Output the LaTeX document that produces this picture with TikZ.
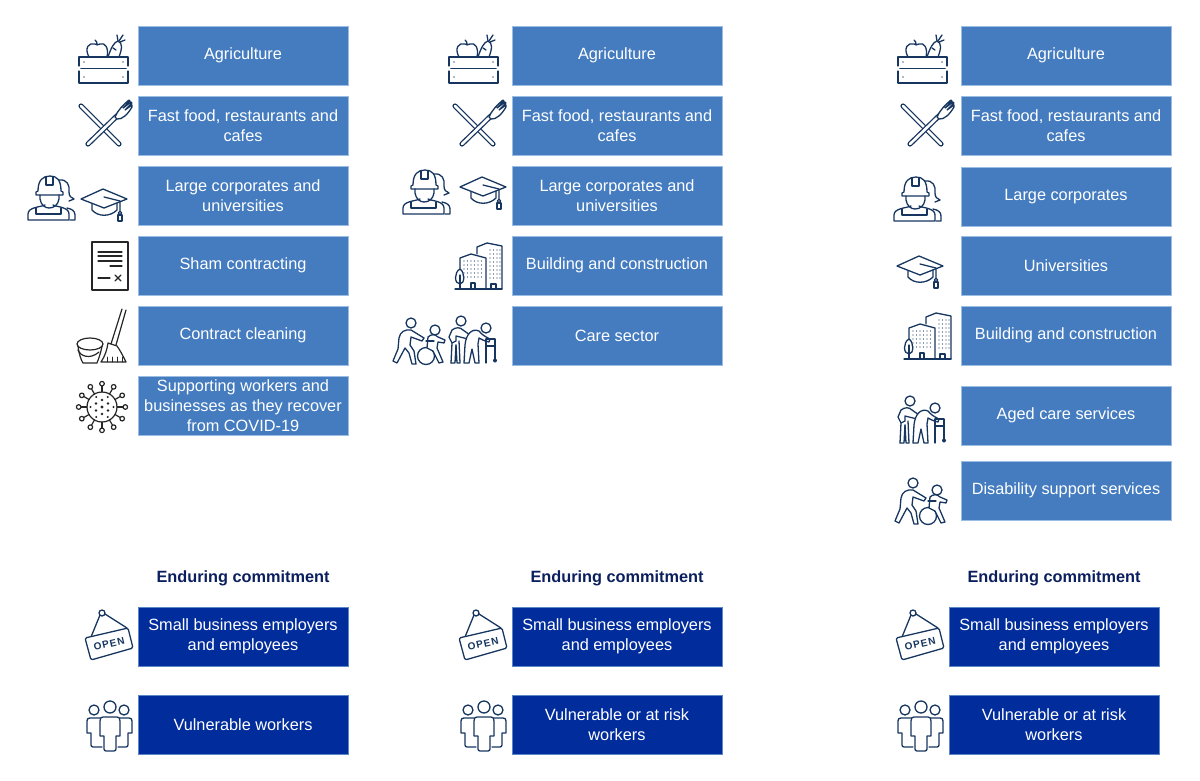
\documentclass[tikz,border=0pt]{standalone}
\usepackage{fontspec}
\setmainfont{Liberation Sans}
\usepackage{tikz}
\definecolor{boxblue}{HTML}{447CBF}
\definecolor{boxedge}{HTML}{9CBDE3}
\definecolor{navybox}{HTML}{002C9C}
\definecolor{navyedge}{HTML}{5B86C8}
\definecolor{headblue}{HTML}{0B1F5E}
\definecolor{iconblue}{HTML}{17365F}
\definecolor{inkgrey}{HTML}{262626}
\tikzset{
	iconline/.style={draw=iconblue, line width=1.3pt, line cap=round, line join=round},
	inkline/.style={draw=inkgrey, line width=1.2pt, line cap=round, line join=round},
	crate/.pic={
		\draw[iconline] (-25,6) -- (-25,-3) -- (24,-3) -- (24,6);
		\draw[iconline] (-25,11) -- (-25,23) -- (24,23) -- (24,11);
		\draw[iconline, line width=1.8pt] (-23,8.5) -- (22,8.5);
		\foreach \px/\py in {-20/2,-20/17,19/2,19/17}
			\fill[iconblue!70] (\px,\py) circle (0.9);
		\draw[iconline] (-15,-3) .. controls (-20,-12) and (-15,-18) .. (-9,-16) .. controls (-7,-15) and (-6,-15) .. (-4,-16) .. controls (1,-18) and (5,-12) .. (3,-3);
		\draw[iconline] (-7,-15) .. controls (-7,-18) .. (-9,-20);
		\draw[iconline] (4,-3) .. controls (7,-12) and (10,-18) .. (14,-19) .. controls (19,-17) and (18,-11) .. (15,-3);
		\draw[iconline] (14,-19) -- (13,-25);
		\draw[iconline] (15,-19) -- (19,-25);
		\draw[iconline] (16,-18) -- (21,-20);
		\draw[iconline] (9,-12) -- (12,-10);
	},
	cutlery/.pic={
		\draw[iconblue, line width=1.3pt, double=white, double distance=2.6pt, line cap=round] (-23,-18) -- (15,20);
		\draw[iconblue, line width=1.3pt, double=white, double distance=2.6pt, line cap=round] (-16,20) -- (15,-10);
		\draw[iconline, fill=white] (11,-7) .. controls (14,-14) and (19,-19) .. (25,-24) -- (26,-23) -- (19,-16) -- (27,-22) -- (28,-21) -- (21,-14) -- (28,-19) -- (28,-17) .. controls (24,-10) and (18,-4) .. (13,-5) -- cycle;
	},
	worker/.pic={
		%Woman behind
		\draw[iconline] (8,-19) .. controls (16,-20) and (19,-14) .. (18,-7) .. controls (18,-3) and (20,-1) .. (23,0) -- (18,2);
		\draw[iconline] (16,9) .. controls (21,10) and (24,12) .. (24,16) -- (24,21) -- (19,21);
		%Man in front
		\draw[iconline, fill=white] (-15,-7) -- (-13,-8) .. controls (-13,-19) and (-8,-23) .. (-1,-23) .. controls (6,-23) and (10,-19) .. (10,-8) -- (12,-7) -- (12,-4) -- (-15,-4) -- cycle;
		\draw[iconline] (-5,-22) -- (-5,-14) -- (2,-14) -- (2,-22);
		\draw[iconline] (-11,-4) -- (-11,0) .. controls (-10,6) and (-6,9) .. (-2,9) .. controls (3,9) and (7,6) .. (8,0) -- (8,-4);
		\draw[iconline] (-6,6) .. controls (-10,8) and (-23,8) .. (-23,15) -- (-23,21) -- (18,21) -- (18,15) .. controls (18,8) and (6,8) .. (2,6);
		\draw[iconline] (-15,9) -- (-15,15) -- (10,15) -- (10,9);
	},
	gradcap/.pic={
		\draw[iconline] (-23,-5) -- (-1,-15) -- (23,-5) -- (0,4) -- cycle;
		\draw[iconline] (-12,0) -- (-12,6) .. controls (-6,13) and (6,13) .. (13,6) -- (13,-1);
		\draw[iconline] (0,-7) -- (16,-3) -- (16,7);
		\draw[iconline] (16,9) circle (1.7);
		\draw[iconline] (14,11) -- (18,11) -- (18,17) -- (14,17) -- cycle;
	},
	contract/.pic={
		\draw[inkline] (-18,-24) rectangle (18,24);
		\foreach \py in {-14,-10,-5}
			\draw[inkline] (-12,\py) -- (12,\py);
		\draw[inkline] (0,0) -- (12,0);
		\draw[inkline] (-12,12) -- (0,12);
		\draw[inkline] (5,9) -- (11,15);
		\draw[inkline] (11,9) -- (5,15);
	},
	cleaning/.pic={
		\draw[inkline] (-12,8) ellipse [x radius=13, y radius=6];
		\draw[inkline] (-24,10) .. controls (-23,18) and (-21,24) .. (-19,27) -- (-5,27) .. controls (-3,22) and (-1,16) .. (0,10);
		\draw[inkline] (-24,14) .. controls (-22,20) and (-12,24) .. (-3,16);
		\draw[inkline] (20,-27) -- (9,8);
		\draw[inkline] (24,-26) -- (14,9);
		\draw[inkline] (6,7) -- (15,10) .. controls (18,14) and (21,20) .. (24,26) -- (-1,26) .. controls (3,20) and (5,14) .. (6,7) -- cycle;
		\foreach \px in {5,10,15,20}
			\draw[inkline, line width=0.9pt] (\px,26) -- (\px,21);
	},
	virus/.pic={
		\draw[inkline] (0,0) circle (15);
		\foreach \pa in {0,30,...,330} {
			\draw[inkline] (\pa:15) -- (\pa:21);
			\draw[inkline] (\pa:23.3) circle (2.3);
		}
		\fill[inkgrey] (0,0) circle (1.6);
		\foreach \pa in {30,90,...,330}
			\fill[inkgrey] (\pa:7) circle (1.4);
		\foreach \pa in {0,60,...,300}
			\fill[inkgrey] (\pa:11.5) circle (1.1);
	},
	towers/.pic={
		\draw[iconline] (-2,-12) -- (-2,-19) -- (8,-23) -- (23,-20) -- (23,23);
		\draw[iconline] (-19,12) -- (-19,-8) -- (-8,-12) -- (7,-8) -- (7,23);
		\draw[iconline] (-24,23) -- (23,23);
		\foreach \px in {-15,-11.5,...,3}
			\foreach \py in {-5,-1,...,11}
				\fill[iconblue] (\px,\py) circle (0.7);
		\foreach \px in {11,14.5,18,21}
			\foreach \py in {-16,-12,...,14}
				\fill[iconblue] (\px,\py) circle (0.7);
		\draw[iconline] (-8,23) -- (-8,17) -- (-4,17) -- (-4,23);
		\draw[iconline] (12,23) -- (12,18) -- (17,18) -- (17,23);
		\draw[iconline, fill=white] (-19,3) .. controls (-25,6) and (-25,18) .. (-19,18) .. controls (-14,18) and (-14,6) .. (-19,3) -- cycle;
		\draw[iconline] (-19,9) -- (-19,23);
	},
	agedcare/.pic={
		\draw[iconline] (-11,-19) circle (5);
		\draw[iconline] (-21,23) -- (-20,3) -- (-23,-3) -- (-20,-10) .. controls (-16,-13) and (-12,-13) .. (-9,-10) -- (-2,-5);
		\draw[iconline] (-20,3) -- (-16,1) -- (-16,-4) -- (-4,-1);
		\draw[iconline] (-21,23) -- (-17,23) -- (-16,5);
		\draw[iconline] (-13,1) -- (-12,23) -- (-15,23) -- (-16,5);
		\draw[iconline] (14,-12) circle (5);
		\draw[iconline, fill=white] (-8,23) -- (-7,5) .. controls (-6,-6) and (0,-12) .. (7,-9) .. controls (10,-5) and (14,-3) .. (18,-1) -- (17,2) .. controls (12,1) and (9,-1) .. (7,-2) -- (6,4) -- (7,23) -- (3,23) -- (0,9) -- (-3,23) -- cycle;
		\draw[iconline] (14,-1) -- (23,-1) -- (23,19);
		\draw[iconline] (14,6) -- (23,6);
		\draw[iconline] (14,-1) -- (14,23);
		\fill[iconblue] (23,20.5) circle (2);
	},
	disability/.pic={
		\draw[iconline] (-8,-17) circle (5);
		\draw[iconline] (-26,21) -- (-21,9) -- (-20,-2) .. controls (-19,-8) and (-14,-11) .. (-8,-10) -- (5,-2) -- (3,1) -- (-8,-3) -- (-9,5) -- (-5,11) -- (-3,24) -- (-7,24) -- (-10,13) -- (-14,8) -- (-22,23) -- cycle;
		\draw[iconline] (16,-10) circle (5);
		\draw[iconline] (7,16) circle (8.5);
		\draw[iconline, fill=white] (8,8) -- (9,-3) .. controls (12,-6) and (16,-6) .. (19,-3) -- (26,0) -- (25,3) -- (19,2) -- (18,8) -- (24,22) -- (20,23) -- (14,11) -- cycle;
		\draw[iconline] (7,1) -- (15,1);
	},
	opensign/.pic={
		\draw[iconline] (-7,-22) circle (3);
		\draw[iconline] (-9,-20) -- (-18,2);
		\draw[iconline] (-4,-21) -- (18,-7);
		\draw[iconline, rounded corners=1.5pt, fill=white] (-24,3) -- (19,-7) -- (24,13) -- (-18,25) -- cycle;
		\node[rotate=13, text=iconblue, font=\fontsize{10}{12}\selectfont\bfseries\addfontfeature{LetterSpace=10}, inner sep=0pt] (-word) at (0,9) {OPEN};
	},
	people/.pic={
		\draw[iconline] (0,-20) circle (6);
		\draw[iconline] (-16,-17) circle (5);
		\draw[iconline] (14,-17) circle (5);
		\draw[iconline] (-10,-6) .. controls (-10,-9) and (-9,-10) .. (-7,-10) -- (7,-10) .. controls (9,-10) and (10,-9) .. (10,-6) -- (10,9) -- (6,9) -- (6,22) .. controls (6,23) and (5,24) .. (4,24) -- (-4,24) .. controls (-5,24) and (-6,23) .. (-6,22) -- (-6,9) -- (-10,9) -- cycle;
		\draw[iconline] (-10,-9) -- (-20,-9) .. controls (-22,-9) and (-23,-8) .. (-23,-6) -- (-23,6) -- (-19,6) -- (-19,18) .. controls (-19,19) and (-18,20) .. (-17,20) -- (-8,20);
		\draw[iconline] (10,-9) -- (19,-9) .. controls (21,-9) and (22,-8) .. (22,-6) -- (22,6) -- (18,6) -- (18,18) .. controls (18,19) and (17,20) .. (16,20) -- (8,20);
	},
}
\begin{document}
\begin{tikzpicture}[
						x=1pt, y=-1pt,
						sectorbox/.style={rectangle, draw=boxedge, fill=boxblue, text=white, inner sep=0pt, minimum width=210pt, minimum height=59pt, align=center, font=\fontsize{16.3}{20}\selectfont},
						commitbox/.style={sectorbox, draw=navyedge, fill=navybox},
						headnode/.style={text=headblue, inner sep=0pt, font=\fontsize{16.3}{20}\selectfont\bfseries},
						]
						\useasboundingbox (0,0) rectangle (1200,780);
						%Nodes, left column
						\node[sectorbox]      (a1) 	at 	(243,55.5)      {Agriculture};
						\node[sectorbox]      (a2) 	at 	(243,125.5)     {Fast food, restaurants and\\cafes};
						\node[sectorbox]      (a3) 	at 	(243,195.5)     {Large corporates and\\universities};
						\node[sectorbox]      (a4) 	at 	(243,265.5)     {Sham contracting};
						\node[sectorbox]      (a5) 	at 	(243,335.5)     {Contract cleaning};
						\node[sectorbox]      (a6) 	at 	(243,405.5)     {Supporting workers and\\businesses as they recover\\from COVID-19};
						\node[headnode]       (ah) 	at 	(243,578)       {Enduring commitment};
						\node[commitbox]      (a7) 	at 	(243,636.5)     {Small business employers\\and employees};
						\node[commitbox]      (a8) 	at 	(243,724.5)     {Vulnerable workers};
						%Nodes, middle column
						\node[sectorbox]      (b1) 	at 	(617,55.5)      {Agriculture};
						\node[sectorbox]      (b2) 	at 	(617,125.5)     {Fast food, restaurants and\\cafes};
						\node[sectorbox]      (b3) 	at 	(617,195.5)     {Large corporates and\\universities};
						\node[sectorbox]      (b4) 	at 	(617,265.5)     {Building and construction};
						\node[sectorbox]      (b5) 	at 	(617,335.5)     {Care sector};
						\node[headnode]       (bh) 	at 	(617,578)       {Enduring commitment};
						\node[commitbox]      (b6) 	at 	(617,636.5)     {Small business employers\\and employees};
						\node[commitbox]      (b7) 	at 	(617,724.5)     {Vulnerable or at risk\\workers};
						%Nodes, right column
						\node[sectorbox]      (c1) 	at 	(1066,55.5)     {Agriculture};
						\node[sectorbox]      (c2) 	at 	(1066,125.5)    {Fast food, restaurants and\\cafes};
						\node[sectorbox]      (c3) 	at 	(1066,196.5)    {Large corporates};
						\node[sectorbox]      (c4) 	at 	(1066,265.5)    {Universities};
						\node[sectorbox]      (c5) 	at 	(1066,335.5)    {Building and construction};
						\node[sectorbox]      (c6) 	at 	(1066,415.5)    {Aged care services};
						\node[sectorbox]      (c7) 	at 	(1066,490.5)    {Disability support services};
						\node[headnode]       (ch) 	at 	(1054,578)      {Enduring commitment};
						\node[commitbox]      (c8) 	at 	(1054,636.5)    {Small business employers\\and employees};
						\node[commitbox]      (c9) 	at 	(1054,724.5)    {Vulnerable or at risk\\workers};
						%Icons, left column
						\pic (ia1) at (104,60)  {crate};
						\pic (ia2) at (104,124) {cutlery};
						\pic (ia3) at (51,199)  {worker};
						\pic (ia4) at (104,204) {gradcap};
						\pic (ia5) at (110,266) {contract};
						\pic (ia6) at (102,336) {cleaning};
						\pic (ia7) at (102,407) {virus};
						\pic (ia8) at (109,635) {opensign};
						\pic (ia9) at (110,727) {people};
						%Icons, middle column
						\pic (ib1) at (474,60)  {crate};
						\pic (ib2) at (478,124) {cutlery};
						\pic (ib3) at (426,193) {worker};
						\pic (ib4) at (483,192) {gradcap};
						\pic (ib5) at (479,266) {towers};
						\pic (ib6) at (419,340) {disability};
						\pic (ib7) at (472,340) {agedcare};
						\pic (ib8) at (483,635) {opensign};
						\pic (ib9) at (484,727) {people};
						%Icons, right column
						\pic (ic1) at (923,60)  {crate};
						\pic (ic2) at (926,124) {cutlery};
						\pic (ic3) at (917,200) {worker};
						\pic (ic4) at (920,271) {gradcap};
						\pic (ic5) at (928,336) {towers};
						\pic (ic6) at (921,420) {agedcare};
						\pic (ic7) at (921,500) {disability};
						\pic (ic8) at (920,635) {opensign};
						\pic (ic9) at (921,727) {people};
					\end{tikzpicture}
\end{document}
